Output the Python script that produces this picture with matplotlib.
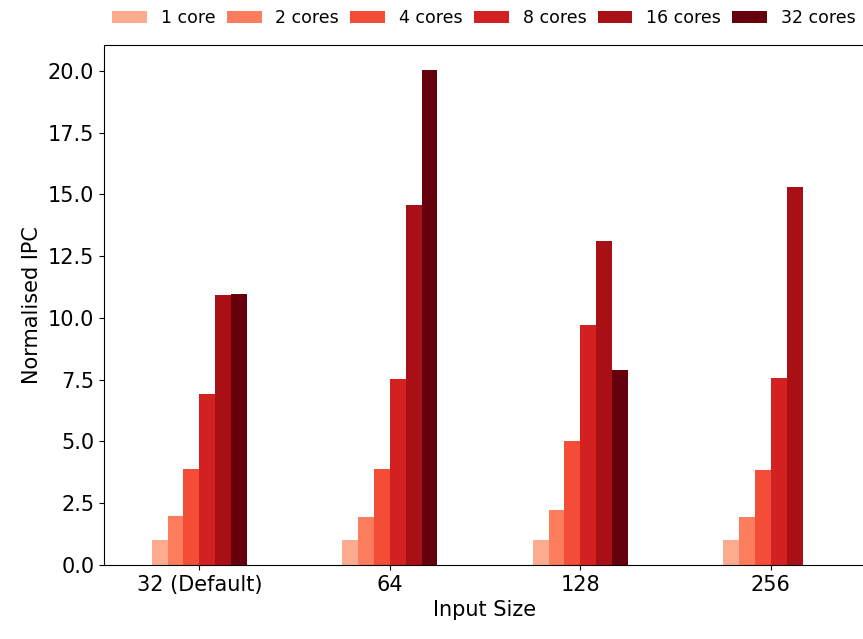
import numpy as np
import matplotlib
matplotlib.use('Agg')
import matplotlib.pyplot as plt

# данные
sizes = ['32 (Default)', '64', '128', '256']
cores = ['1 core', '2 cores', '4 cores', '8 cores', '16 cores', '32 cores']
ipc_1 = [1.0, 1.0, 1.0, 1.0]
ipc_2 = [1.98, 1.94, 2.22, 1.95]
ipc_4 = [3.89, 3.89, 5.02, 3.86]
ipc_8 = [6.92, 7.53, 9.72, 7.58]
ipc_16 = [10.93, 14.57, 13.10, 15.28]
ipc_32 = [10.97, 20.04, 7.88, np.nan]
series = [ipc_1, ipc_2, ipc_4, ipc_8, ipc_16, ipc_32]

colors = plt.cm.Reds(np.linspace(0.3, 1.0, 6))

fig = plt.figure(figsize=(8.63, 6.39), dpi=100)
ax = fig.add_axes([104 / 863, 74 / 639, 762 / 863, 520 / 639])

x = np.arange(len(sizes))
w = 0.5 / len(cores)
for i, (name, vals) in enumerate(zip(cores, series)):
    ax.bar(x + (i - 2.5) * w, vals, width=w, color=colors[i], label=name)

ax.set_xlim(-0.5, 3.5)
ax.set_xticks(x)
ax.set_xticklabels(sizes, fontsize=15)
ax.tick_params(axis='y', labelsize=15)
ax.set_xlabel('Input Size', fontsize=15)
ax.set_ylabel('Normalised IPC', fontsize=15)

fig.legend(loc='upper center', bbox_to_anchor=(484 / 863, 1.01), ncol=6,
           frameon=False, fontsize=12.5, columnspacing=0.65)

fig.savefig('out.png', dpi=100)
